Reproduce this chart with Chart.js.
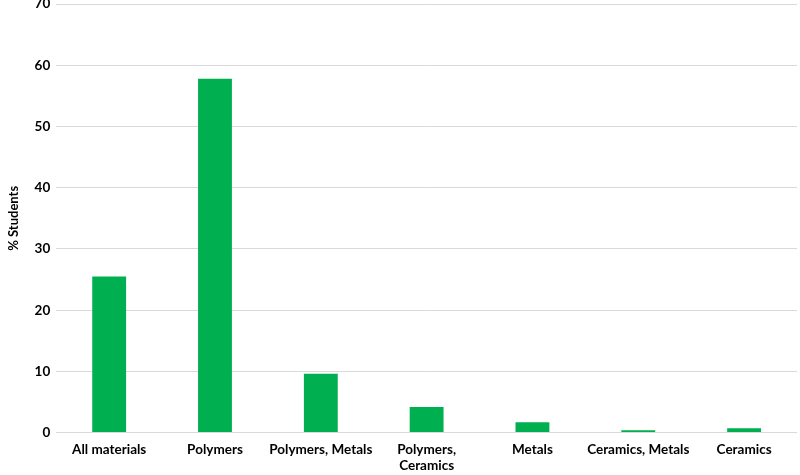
<!DOCTYPE html>
<html>
<head>
<meta charset="utf-8">
<script src="https://cdn.jsdelivr.net/npm/chart.js@4/dist/chart.umd.min.js"></script>
<style>
  html, body { margin: 0; padding: 0; background: #fff; overflow: hidden; }
  #wrap { width: 800px; height: 485px; margin-top: -10px; }
</style>
</head>
<body>
<div id="wrap"><canvas id="chart"></canvas></div>
<script>
// Categories and values
const categories = ["All materials", "Polymers", "Polymers, Metals", ["Polymers,", "Ceramics"], "Metals", "Ceramics, Metals", "Ceramics"];
const students = [25.5, 57.8, 9.6, 4.2, 1.7, 0.4, 0.7];
const yTicks = [0, 10, 20, 30, 40, 50, 60, 70];

const tickFont = { family: "Lato, 'Open Sans', sans-serif", size: 13.5, weight: "bold" };

const ctx = document.getElementById("chart").getContext("2d");
new Chart(ctx, {
  type: "bar",
  data: {
    labels: categories,
    datasets: [
      {
        label: "% Students",
        data: students,
        backgroundColor: "#00B050",
        borderWidth: 0,
        barPercentage: 0.32,
        categoryPercentage: 1,
      },
    ],
  },
  options: {
    responsive: true,
    maintainAspectRatio: false,
    animation: false,
    layout: { padding: { top: 0, right: 3, left: 6, bottom: -8 } },
    plugins: {
      legend: { display: false },
      tooltip: { enabled: false },
    },
    scales: {
      x: {
        grid: { display: false, drawTicks: false },
        border: { display: false },
        ticks: {
          color: "#000",
          font: tickFont,
          maxRotation: 0,
          autoSkip: false,
          padding: 9,
          lineHeight: 1.2,
        },
      },
      y: {
        min: 0,
        max: 70,
        afterBuildTicks: (axis) => {
          axis.ticks = yTicks.map((v) => ({ value: v }));
        },
        grid: { color: "#d9d9d9", lineWidth: 1, drawTicks: false },
        border: { display: false },
        ticks: {
          color: "#000",
          font: tickFont,
          padding: 6,
        },
        title: {
          display: true,
          text: "% Students",
          color: "#000",
          font: { family: "Lato, 'Open Sans', sans-serif", size: 13, weight: "bold" },
          padding: { top: 0, bottom: 7 },
        },
      },
    },
  },
});
</script>
</body>
</html>
